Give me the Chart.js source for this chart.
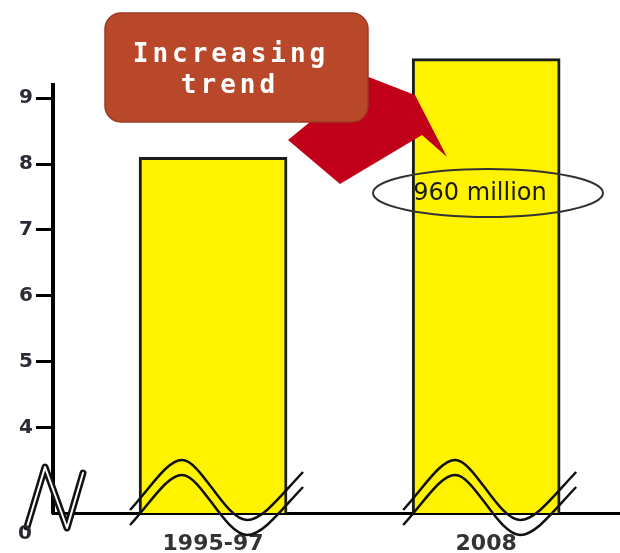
<!DOCTYPE html>
<html>
<head>
<meta charset="utf-8">
<script src="https://cdn.jsdelivr.net/npm/chart.js@4.4.1/dist/chart.umd.min.js"></script>
<style>
  html, body { margin: 0; padding: 0; background: #fff; }
  #wrap { width: 620px; height: 553px; }
</style>
</head>
<body>
<div id="wrap"><canvas id="hungerChart" width="620" height="553"></canvas></div>
<script>
// Undernourished people, in hundreds of millions
const categories = ["1995-97", "2008"];
const hungerValues = [8.1, 9.6];
const yTickValues = [4, 5, 6, 7, 8, 9];
const calloutLines = ["Increasing", "trend"];
const valueNote = Math.round(hungerValues[1] * 100) + " million";

// broken y axis: everything below yMin is cut out
const yMin = 2.7;
const yMax = 9.2;
const labelColor = "#2b2b36";

// callout, arrow, ellipse note and the axis break squiggles
const annotations = {
  id: "annotations",
  afterDraw(chart) {
    const ctx = chart.ctx;
    const base = chart.chartArea.bottom;
    const bars = chart.getDatasetMeta(0).data;
    ctx.save();

    // red arrow pointing at the second bar
    ctx.fillStyle = "#c1001a";
    ctx.beginPath();
    ctx.moveTo(288, 140);
    ctx.lineTo(366, 76);
    ctx.lineTo(415, 95);
    ctx.lineTo(447, 157);
    ctx.lineTo(422, 135);
    ctx.lineTo(340, 184);
    ctx.closePath();
    ctx.fill();

    // callout box
    ctx.fillStyle = "#b9482b";
    ctx.strokeStyle = "#9a3a22";
    ctx.lineWidth = 1.5;
    ctx.beginPath();
    ctx.roundRect(105, 13, 263, 109, 16);
    ctx.fill();
    ctx.stroke();

    ctx.fillStyle = "#ffffff";
    ctx.font = 'bold 26px "DejaVu Sans Mono"';
    ctx.letterSpacing = "4px";
    ctx.textAlign = "center";
    ctx.textBaseline = "middle";
    ctx.fillText(calloutLines[0], 231, 55);
    ctx.fillText(calloutLines[1], 230, 86);
    ctx.letterSpacing = "0px";

    // value note
    ctx.strokeStyle = "#333";
    ctx.lineWidth = 2;
    ctx.beginPath();
    ctx.ellipse(488, 193, 115, 24, 0, 0, Math.PI * 2);
    ctx.stroke();
    ctx.fillStyle = "#1a1a1a";
    ctx.font = '24px "DejaVu Sans"';
    ctx.fillText(valueNote, 480, 194);

    // wavy break marks across each bar
    ctx.strokeStyle = "#111";
    ctx.lineWidth = 2.5;
    bars.forEach(bar => {
      const cx = bar.x;
      [0, 15].forEach(o => {
        ctx.beginPath();
        ctx.moveTo(cx - 83, base - 3 + o);
        ctx.bezierCurveTo(cx - 62, base - 26 + o, cx - 46, base - 53 + o, cx - 31, base - 53 + o);
        ctx.bezierCurveTo(cx - 12, base - 53 + o, cx + 12, base + 7 + o, cx + 34, base + 7 + o);
        ctx.bezierCurveTo(cx + 50, base + 7 + o, cx + 68, base - 18 + o, cx + 90, base - 41 + o);
        ctx.stroke();
      });
    });

    // break squiggle on the y axis
    const ax = chart.chartArea.left;
    ctx.lineJoin = "round";
    ctx.lineCap = "round";
    const squiggle = () => {
      ctx.beginPath();
      ctx.moveTo(ax - 26, base + 14);
      ctx.lineTo(ax - 8, base - 46);
      ctx.lineTo(ax + 14, base + 15);
      ctx.lineTo(ax + 30, base - 40);
      ctx.stroke();
    };
    ctx.strokeStyle = "#111";
    ctx.lineWidth = 7;
    squiggle();
    ctx.strokeStyle = "#fff";
    ctx.lineWidth = 2;
    squiggle();

    ctx.fillStyle = labelColor;
    ctx.font = 'bold 20px "DejaVu Sans"';
    ctx.fillText("0", 25, base + 21);
    ctx.restore();
  }
};

const ctx = document.getElementById("hungerChart").getContext("2d");

new Chart(ctx, {
  type: "bar",
  data: {
    datasets: [{
      data: hungerValues.map((v, i) => ({ x: i + 1, y: v })),
      base: yMin,
      backgroundColor: "#fff300",
      borderColor: "#1c1c1c",
      borderWidth: 3,
      borderSkipped: "bottom",
      barThickness: 148,
      clip: false
    }]
  },
  options: {
    responsive: false,
    animation: false,
    events: [],
    layout: { padding: { top: 85, right: 0, left: 0, bottom: 0 } },
    plugins: {
      legend: { display: false },
      tooltip: { enabled: false }
    },
    scales: {
      x: {
        type: "linear",
        offset: false,
        min: 0.414,
        max: 2.49,
        afterBuildTicks: scale => {
          scale.ticks = categories.map((c, i) => ({ value: i + 1 }));
        },
        afterFit: scale => { scale.height = 40; },
        grid: { display: false },
        border: { display: true, color: "#000", width: 3 },
        ticks: {
          padding: 10,
          color: "#333",
          font: { family: "DejaVu Sans", size: 22, weight: "bold" },
          callback: value => categories[value - 1]
        }
      },
      y: {
        min: yMin,
        max: yMax,
        afterBuildTicks: scale => {
          scale.ticks = yTickValues.map(v => ({ value: v }));
        },
        afterFit: scale => { scale.width = 53; },
        grid: {
          drawOnChartArea: false,
          drawTicks: true,
          tickLength: 17,
          tickWidth: 3,
          tickColor: "#000"
        },
        border: { display: true, color: "#000", width: 4 },
        ticks: {
          padding: 3,
          color: labelColor,
          font: { family: "DejaVu Sans", size: 20, weight: "bold" }
        }
      }
    }
  },
  plugins: [annotations]
});
</script>
</body>
</html>
